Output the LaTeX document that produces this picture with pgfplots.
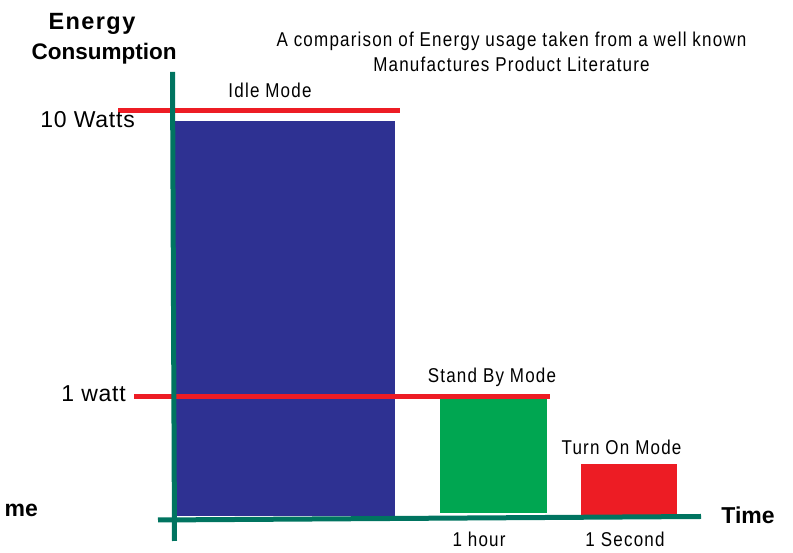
\documentclass[border=0pt]{standalone}
\usepackage{pgfplots}
\pgfplotsset{compat=1.18}
\usepackage{fontspec}
\setmainfont{Liberation Sans}
\newfontfamily\narrow[FakeStretch=0.85,LetterSpace=6]{Liberation Sans}

\definecolor{idleblue}{HTML}{2E3192}
\definecolor{standgreen}{HTML}{00A651}
\definecolor{modered}{HTML}{ED1C24}
\definecolor{axisteal}{RGB}{0,116,96}

\begin{document}
\begin{tikzpicture}
  \begin{axis}[
      scale only axis,
      width=793pt, height=553pt,
      xmin=0, xmax=793, ymin=0, ymax=553,
      hide axis,
      clip=false,
    ]
    % frame of the picture, not drawn
    \addplot[draw=none] coordinates {(0,0) (793,553)};

    % bars (picture units, y up)
    \addplot[fill=idleblue, draw=none] coordinates {(175,37) (395,37) (395,432) (175,432)} -- cycle;
    \addplot[fill=standgreen, draw=none] coordinates {(440,40) (547,40) (547,155) (440,155)} -- cycle;
    \addplot[fill=modered, draw=none] coordinates {(581,38) (677,38) (677,89) (581,89)} -- cycle;

    % level lines
    \addplot[modered, line width=5pt] coordinates {(118,442) (400,442)};
    \addplot[modered, line width=5pt] coordinates {(134,156) (550,156)};

    % hand drawn axes
    \addplot[axisteal, line width=5pt] coordinates {(172.5,481) (174.5,12)};
    \addplot[axisteal, line width=5pt] coordinates {(158,33) (701,36.5)};

    % labels
    \node[anchor=base, font=\bfseries\fontsize{23.5}{26}\selectfont\addfontfeature{LetterSpace=6}] at (92,523) {Energy};
    \node[anchor=base, font=\bfseries\fontsize{22.5}{26}\selectfont] at (104,493) {Consumption};
    \node[anchor=base east, font=\fontsize{23}{26}\selectfont\addfontfeature{LetterSpace=3.3}, inner xsep=0pt] at (135,425) {10 Watts};
    \node[anchor=base east, font=\fontsize{23}{26}\selectfont\addfontfeature{LetterSpace=3.3}, inner xsep=0pt] at (126,151) {1 watt};
    \node[anchor=base, font=\narrow\fontsize{20}{24}\selectfont] at (511.5,506) {A comparison of Energy usage taken from a well known};
    \node[anchor=base, font=\narrow\fontsize{20}{24}\selectfont] at (511.5,481) {Manufactures Product Literature};
    \node[anchor=base, font=\narrow\fontsize{20}{24}\selectfont] at (270,455) {Idle Mode};
    \node[anchor=base, font=\narrow\fontsize{20}{24}\selectfont] at (492,170) {Stand By Mode};
    \node[anchor=base, font=\narrow\fontsize{20}{24}\selectfont] at (621.5,98) {Turn On Mode};
    \node[anchor=base, font=\narrow\fontsize{20}{24}\selectfont] at (479,6) {1 hour};
    \node[anchor=base, font=\narrow\fontsize{20}{24}\selectfont] at (625,6) {1 Second};
    \node[anchor=base, font=\bfseries\fontsize{23}{26}\selectfont] at (748,29) {Time};
    \node[anchor=base east, font=\bfseries\fontsize{23}{26}\selectfont, inner xsep=0pt] at (38,36) {me};
  \end{axis}
\end{tikzpicture}
\end{document}
